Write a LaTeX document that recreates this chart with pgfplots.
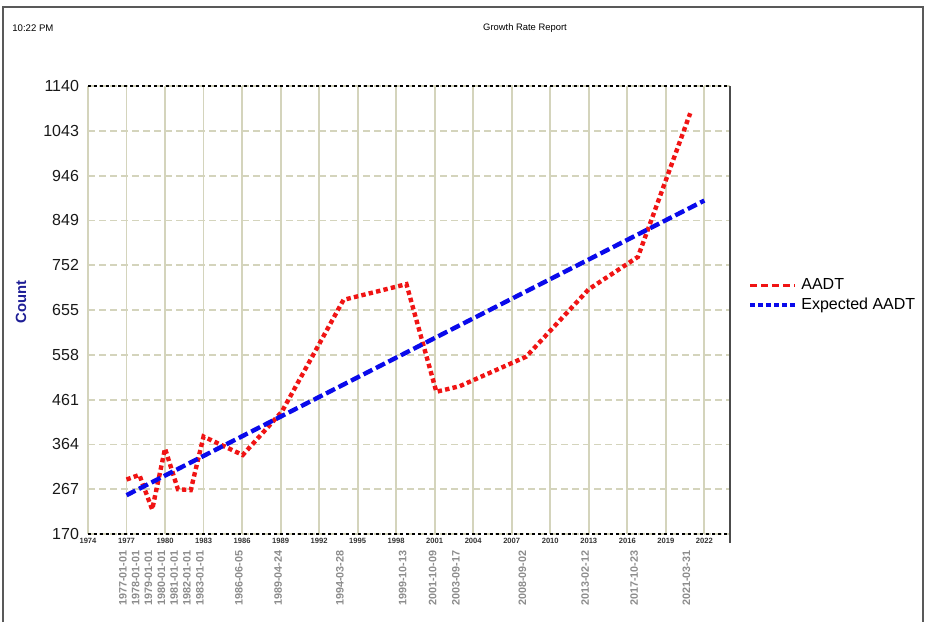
\documentclass[border=0pt]{standalone}
\usepackage{fontspec}
\setmainfont{Liberation Sans}
\usepackage{pgfplots}
\pgfplotsset{compat=1.18}
\definecolor{gridc}{RGB}{212,212,188}
\definecolor{aadtred}{RGB}{240,20,20}
\definecolor{expblue}{RGB}{10,10,235}
\definecolor{countblue}{RGB}{30,30,150}
\begin{document}
\begin{tikzpicture}
\useasboundingbox (0,0) rectangle (463pt,311pt);
\draw[black!65, line width=0.8pt] (1.5pt,0) -- (1.5pt,307.5pt) -- (461.5pt,307.5pt) -- (461.5pt,0);
\node[anchor=west, font=\fontsize{4.8}{5}\selectfont, inner sep=0pt] at (6pt,297pt) {10:22 PM};
\node[font=\fontsize{4.7}{5}\selectfont, inner sep=0pt] at (262.5pt,297pt) {Growth Rate Report};
\node[rotate=90, font=\fontsize{7.4}{8}\selectfont\bfseries, text=countblue] at (10.5pt,160pt) {Count};
\begin{axis}[
  name=ax,
  at={(44pt,44pt)}, anchor=south west, scale only axis,
  width=321pt, height=224pt,
  xmin=1974, xmax=2024, ymin=170, ymax=1140,
  xtick={1974,1977,1980,1983,1986,1989,1992,1995,1998,2001,2004,2007,2010,2013,2016,2019,2022},
  ytick={170,267,364,461,558,655,752,849,946,1043,1140},
  /pgf/number format/1000 sep={},
  /pgf/number format/assume math mode=true,
  grid=major,
  major x grid style={gridc, line width=0.9pt},
  major y grid style={gridc, line width=0.9pt, dash pattern=on 3.5pt off 2pt},
  separate axis lines,
  x axis line style={black, line width=0.6pt, dash pattern=on 1.5pt off 1.5pt},
  y axis line style={draw=none},
  major tick length=0pt,
  tick style={draw=none},
  xticklabel style={font=\fontsize{3.8}{4}\selectfont\bfseries, text=black!80, inner sep=0pt, yshift=-2pt},
  yticklabel style={font=\fontsize{8}{9}\selectfont, text=black!90, xshift=-1pt},
  extra x ticks={1977,1978,1979,1980,1981,1982,1983,1986.05,1989.1,1993.9,1998.8,2001.13,2002.95,2008.13,2013.0,2016.83,2020.9},
  extra x tick labels={1977-01-01,1978-01-01,1979-01-01,1980-01-01,1981-01-01,1982-01-01,1983-01-01,1986-06-05,1989-04-24,1994-03-28,1999-10-13,2001-10-09,2003-09-17,2008-09-02,2013-02-12,2017-10-23,2021-03-31},
  extra x tick style={grid=none, xticklabel style={yshift=-6pt, rotate=90, anchor=base east, inner sep=0pt, font=\fontsize{5.4}{6}\selectfont\bfseries, text=black!45}},
  legend style={draw=none, fill=none, at={(axis description cs:1.028,0.58)}, anchor=north west,
    font=\fontsize{8}{9.6}\selectfont, inner sep=0pt, row sep=-1.5pt},
  legend cell align=left,
]
\addplot[aadtred, line width=2.2pt, dash pattern=on 2.2pt off 1.6pt,
  legend image code/.code={\draw[aadtred, line width=1.5pt, dash pattern=on 3.5pt off 2pt] (0pt,0pt) -- (22.5pt,0pt);}]
coordinates {
(1977,288) (1978,298) (1979,223) (1980,355) (1981,267) (1982,265) (1983,381)
(1986.05,341) (1989.1,435) (1993.9,677) (1998.8,711) (2001.13,478) (2002.95,490)
(2008.13,554) (2013.0,700) (2016.83,770) (2020.9,1081)
};
\addlegendentry{AADT}
\addplot[expblue, line width=2.2pt, dash pattern=on 5pt off 2pt,
  legend image code/.code={\draw[expblue, line width=2pt, dash pattern=on 2.5pt off 1.5pt] (0pt,0pt) -- (22.5pt,0pt);}]
coordinates {(1977,254) (2022,892)};
\addlegendentry{Expected AADT}
\end{axis}
\draw[black!70, line width=0.8pt] ([yshift=-4.5pt]ax.south east) -- (ax.north east);
\end{tikzpicture}
\end{document}
